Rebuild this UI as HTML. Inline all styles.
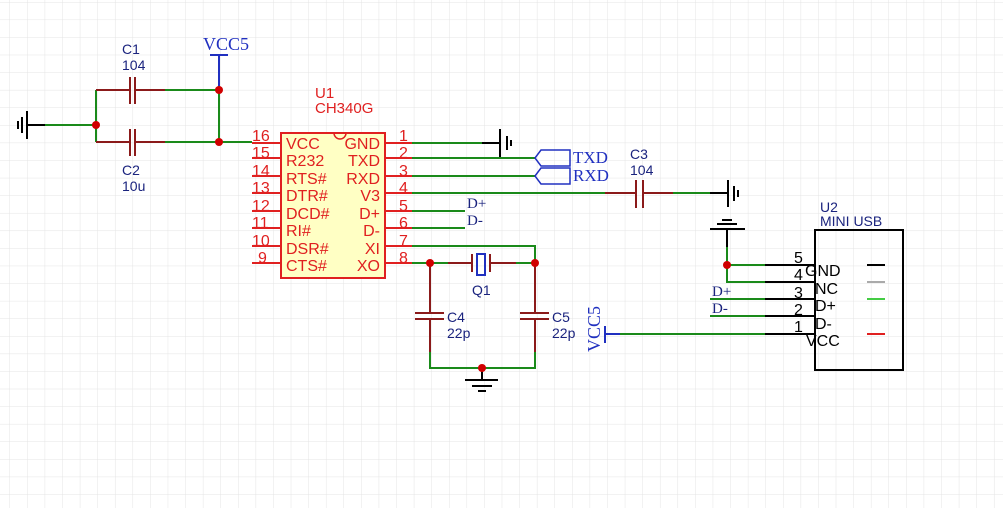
<!DOCTYPE html>
<html><head><meta charset="utf-8"><style>
html,body{margin:0;padding:0;background:#fff;}
svg{display:block;}
.s{font-family:"Liberation Sans",sans-serif;}
.r{font-family:"Liberation Serif",serif;}
</style></head><body>
<svg width="1003" height="508" viewBox="0 0 1003 508" xmlns="http://www.w3.org/2000/svg">
<defs>
<pattern id="g" x="9.5" y="2" width="17.58" height="17.58" patternUnits="userSpaceOnUse">
<path d="M0 0H17.58M0 0V17.58" stroke="#e4e4e4" stroke-width="1" fill="none"/>
</pattern>
</defs>
<rect width="1003" height="508" fill="url(#g)"/>
<g fill="none" stroke-width="2">
<!-- left cap network -->
<path d="M45 125H96M96 90V142M165 90H219M165 142H252M219 90V142" stroke="#1a8a1a"/>
<path d="M96 90H130M135 90H165M96 142H130M135 142H165" stroke="#8b1a1a"/>
<path d="M130 77V104M135 77V104M130 129V156M135 129V156" stroke="#8b1a1a"/>
<path d="M27 125H45M27 111V139M22 117V133M18 121V129" stroke="#000"/>
<path d="M219 55V90M210 55H228" stroke="#2030c0"/>
<!-- chip pins -->
<path d="M252 143H281M252 158H281M252 176H281M252 193H281M252 211H281M252 228H281M252 246H281M252 263H281M385 143H412M385 158H412M385 176H412M385 193H412M385 211H412M385 228H412M385 246H412M385 263H412" stroke="#e02020"/>
<!-- right wires -->
<path d="M412 143H482M412 158H535M412 176H535M412 193H605M673 193H710M412 211H465M412 228H465M412 246H535V263M412 263H448M516 263H535" stroke="#1a8a1a"/>
<path d="M482 143H500M500 129V157M507 136V150M511 140V146" stroke="#000"/>
<path d="M605 193H636M643 193H673M636 180V208M643 180V208" stroke="#8b1a1a"/>
<path d="M710 193H728M728 180V207M734 186V201M738 190V197" stroke="#000"/>
<path d="M448 263H472M490 263H516M472 254V272M490 254V272" stroke="#8b1a1a"/>
<rect x="477" y="254" width="8" height="21" stroke="#2030c0"/>
<path d="M430 263V313M415 313H444M415 319H444M430 319V352M535 263V313M520 313H549M520 319H549M535 319V352" stroke="#8b1a1a"/>
<path d="M430 352V368H535V352" stroke="#1a8a1a"/>
<path d="M482 368V380M465 380H498M472 386H492M478 391H486" stroke="#000"/>
<!-- net ports -->
<path d="M535 158L541 150H570V166H541Z M535 176L541 168H570V184H541Z" stroke="#2030c0" stroke-width="1.5"/>
<!-- USB side -->
<path d="M722 220H732M717 224H737M710 229H745M727 229V247" stroke="#000"/>
<path d="M727 247V282H765M727 265H765M710 299H765M710 316H765M620 334H765" stroke="#1a8a1a"/>
<path d="M765 265H815M765 282H815M765 299H815M765 316H815M765 334H815" stroke="#000"/>
<path d="M605 334H620M605 326V343" stroke="#2030c0"/>
<rect x="815" y="230" width="88" height="140" stroke="#000"/>
<path d="M867 265H885" stroke="#000"/><path d="M867 282H885" stroke="#aaa"/><path d="M867 299H885" stroke="#44cc44"/><path d="M867 334H885" stroke="#e02020"/>
</g>
<rect x="281" y="133" width="104" height="145" fill="#ffffc4" stroke="#e02020" stroke-width="2"/>
<path d="M334 133A6 6 0 0 0 346 133" fill="none" stroke="#e02020" stroke-width="1.5"/>
<g fill="#d00000">
<circle cx="96" cy="125" r="4"/><circle cx="219" cy="90" r="4"/><circle cx="219" cy="142" r="4"/>
<circle cx="430" cy="263" r="4"/><circle cx="535" cy="263" r="4"/><circle cx="482" cy="368" r="4"/><circle cx="727" cy="265" r="4"/>
</g>
<g class="s" font-size="15" fill="#e02020">
<text x="315" y="98">U1</text><text x="315" y="113">CH340G</text>
<g font-size="16">
<text x="252" y="141">16</text><text x="252" y="158">15</text><text x="252" y="176">14</text><text x="252" y="193">13</text><text x="252" y="211">12</text><text x="252" y="228">11</text><text x="252" y="246">10</text><text x="258" y="263">9</text>
<text x="399" y="141">1</text><text x="399" y="158">2</text><text x="399" y="176">3</text><text x="399" y="193">4</text><text x="399" y="211">5</text><text x="399" y="228">6</text><text x="399" y="246">7</text><text x="399" y="263">8</text>
<text x="286" y="149">VCC</text><text x="286" y="166">R232</text><text x="286" y="184">RTS#</text><text x="286" y="201">DTR#</text><text x="286" y="219">DCD#</text><text x="286" y="236">RI#</text><text x="286" y="254">DSR#</text><text x="286" y="271">CTS#</text>
<g text-anchor="end"><text x="380" y="149">GND</text><text x="380" y="166">TXD</text><text x="380" y="184">RXD</text><text x="380" y="201">V3</text><text x="380" y="219">D+</text><text x="380" y="236">D-</text><text x="380" y="254">XI</text><text x="380" y="271">XO</text></g>
</g>
</g>
<g class="s" font-size="14" fill="#1a237e">
<text x="122" y="54">C1</text><text x="122" y="70">104</text>
<text x="122" y="175">C2</text><text x="122" y="191">10u</text>
<text x="630" y="159">C3</text><text x="630" y="175">104</text>
<text x="472" y="295">Q1</text>
<text x="447" y="322">C4</text><text x="447" y="338">22p</text>
<text x="552" y="322">C5</text><text x="552" y="338">22p</text>
<text x="820" y="212">U2</text><text x="820" y="226">MINI USB</text>
</g>
<g class="r" fill="#2030c0">
<text x="203" y="50" font-size="18">VCC5</text>
<text x="573" y="163" font-size="17">TXD</text><text x="573" y="181" font-size="17">RXD</text>
<text x="600" y="352" font-size="18" transform="rotate(-90 600 352)">VCC5</text>
</g>
<g class="r" fill="#1a237e" font-size="15">
<text x="467" y="208">D+</text><text x="467" y="225">D-</text>
<text x="712" y="296">D+</text><text x="712" y="313">D-</text>
</g>
<g class="s" fill="#000" font-size="16">
<text x="794" y="263">5</text><text x="794" y="280">4</text><text x="794" y="298">3</text><text x="794" y="315">2</text><text x="794" y="332">1</text>
<text x="805" y="276">GND</text><text x="815" y="294">NC</text><text x="815" y="311">D+</text><text x="815" y="329">D-</text><text x="806" y="346">VCC</text>
</g>
</svg>
</body></html>
